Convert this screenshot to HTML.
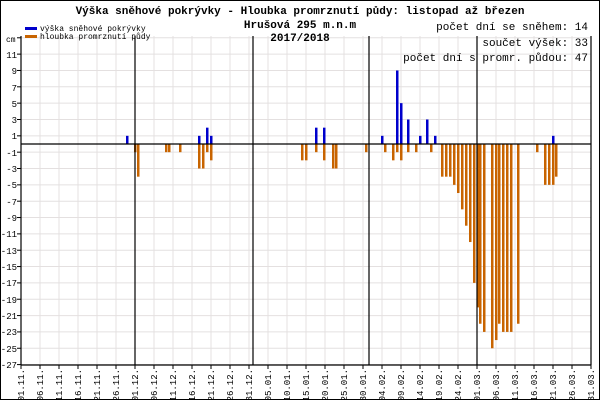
<!DOCTYPE html>
<html><head><meta charset="utf-8"><style>
body{margin:0;background:#fff}
svg{display:block;font-family:"Liberation Mono","DejaVu Sans Mono",monospace}
</style></head><body>
<svg id="s" width="600" height="400" xmlns="http://www.w3.org/2000/svg">
<rect x="0.5" y="0.5" width="599" height="399" fill="#fff" stroke="#000"/>
<g id="grid" stroke="#e4e0e0" stroke-width="1"></g>
<g id="bars"></g>
<g stroke="#000" stroke-width="1.2">
<line x1="21" y1="144" x2="591" y2="144"/>
<line x1="21" y1="36" x2="21" y2="365"/>
<line x1="21" y1="365" x2="591" y2="365"/>
<line x1="135" y1="36" x2="135" y2="365"/>
<line x1="253" y1="36" x2="253" y2="365"/>
<line x1="369" y1="36" x2="369" y2="365"/>
<line x1="477" y1="36" x2="477" y2="365"/>
<line x1="591" y1="36" x2="591" y2="365"/>
</g>
<g id="ticks" stroke="#000"></g>
<g font-size="11" font-weight="bold" text-anchor="middle">
<text x="300" y="14">Výška sněhové pokrývky - Hloubka promrznutí půdy: listopad až březen</text>
<text x="300" y="28">Hrušová 295 m.n.m</text>
<text x="300" y="41">2017/2018</text>
</g>
<g font-size="11" text-anchor="end">
<text x="588" y="30">počet dní se sněhem: 14</text>
<text x="588" y="46">součet výšek: 33</text>
<text x="588" y="61">počet dní s promr. půdou: 47</text>
</g>
<rect x="25" y="27" width="12" height="3" fill="#0000cc"/>
<rect x="25" y="35" width="12" height="3" fill="#c86400"/>
<g font-size="8"><text x="40" y="31">výška sněhové pokrývky</text><text x="40" y="39">hloubka promrznutí půdy</text><text x="6" y="42">cm</text></g>
<g font-size="9" text-anchor="end">
<text x="17" y="58">11</text><text x="17" y="74">9</text><text x="17" y="91">7</text><text x="17" y="107">5</text><text x="17" y="123">3</text><text x="17" y="139">1</text><text x="17" y="156">-1</text><text x="17" y="172">-3</text><text x="17" y="188">-5</text><text x="17" y="205">-7</text><text x="17" y="221">-9</text><text x="17" y="237">-11</text><text x="17" y="254">-13</text><text x="17" y="270">-15</text><text x="17" y="286">-17</text><text x="17" y="303">-19</text><text x="17" y="319">-21</text><text x="17" y="335">-23</text><text x="17" y="352">-25</text><text x="17" y="368">-27</text>
</g>
<g font-size="9" text-anchor="end">
<text transform="translate(24,369) rotate(-90)">01.11.</text>
<text transform="translate(43,369) rotate(-90)">06.11.</text>
<text transform="translate(62,369) rotate(-90)">11.11.</text>
<text transform="translate(81,369) rotate(-90)">16.11.</text>
<text transform="translate(100,369) rotate(-90)">21.11.</text>
<text transform="translate(119,369) rotate(-90)">26.11.</text>
<text transform="translate(138,369) rotate(-90)">01.12.</text>
<text transform="translate(157,369) rotate(-90)">06.12.</text>
<text transform="translate(176,369) rotate(-90)">11.12.</text>
<text transform="translate(195,369) rotate(-90)">16.12.</text>
<text transform="translate(214,369) rotate(-90)">21.12.</text>
<text transform="translate(233,369) rotate(-90)">26.12.</text>
<text transform="translate(252,369) rotate(-90)">31.12.</text>
<text transform="translate(271,369) rotate(-90)">05.01.</text>
<text transform="translate(290,369) rotate(-90)">10.01.</text>
<text transform="translate(309,369) rotate(-90)">15.01.</text>
<text transform="translate(328,369) rotate(-90)">20.01.</text>
<text transform="translate(347,369) rotate(-90)">25.01.</text>
<text transform="translate(366,369) rotate(-90)">30.01.</text>
<text transform="translate(385,369) rotate(-90)">04.02.</text>
<text transform="translate(404,369) rotate(-90)">09.02.</text>
<text transform="translate(423,369) rotate(-90)">14.02.</text>
<text transform="translate(442,369) rotate(-90)">19.02.</text>
<text transform="translate(461,369) rotate(-90)">24.02.</text>
<text transform="translate(480,369) rotate(-90)">01.03.</text>
<text transform="translate(499,369) rotate(-90)">06.03.</text>
<text transform="translate(518,369) rotate(-90)">11.03.</text>
<text transform="translate(537,369) rotate(-90)">16.03.</text>
<text transform="translate(556,369) rotate(-90)">21.03.</text>
<text transform="translate(575,369) rotate(-90)">26.03.</text>
<text transform="translate(594,369) rotate(-90)">31.03.</text>
</g>
</svg>
<script>
var NS="http://www.w3.org/2000/svg";
function el(p,t,a){var e=document.createElementNS(NS,t);for(var k in a)e.setAttribute(k,a[k]);document.getElementById(p).appendChild(e);}
var U=8.17,Z=144;
for(var k=0;k<=30;k++){var x=21+19*k;el("grid","line",{x1:x,y1:36,x2:x,y2:365});el("ticks","line",{x1:x,y1:365,x2:x,y2:369});}
for(var v=13;v>=-27;v-=2){var y=Z-v*U;if(y<36)continue;el("grid","line",{x1:21,y1:y,x2:591,y2:y});el("ticks","line",{x1:17,y1:y,x2:21,y2:y});}
var blue=[[127,1],[199,1],[207,2],[211,1],[316,2],[324,2],[382,1],[397,9],[401,5],[408,3],[420,1],[427,3],[435,1],[553,1]];
var or=[[135,-1],[138,-4],[166,-1],[169,-1],[180,-1],[199,-3],[203,-3],[207,-1],[211,-2],[302,-2],[306,-2],[316,-1],[324,-2],[333,-3],[336,-3],[366,-1],[385,-1],[393,-2],[397,-1],[401,-2],[408,-1],[416,-1],[431,-1],[442,-4],[446,-4],[450,-4],[454,-5],[458,-6],[462,-8],[466,-10],[470,-12],[474,-17],[478,-20],[480,-22],[484,-23],[492,-25],[496,-24],[499,-22],[503,-23],[507,-23],[511,-23],[518,-22],[537,-1],[545,-5],[549,-5],[553,-5],[556,-4]];
blue.forEach(function(b){el("bars","rect",{x:b[0]-1,y:Z-b[1]*U,width:2.5,height:b[1]*U,fill:"#0000cc"});});
or.forEach(function(b){el("bars","rect",{x:b[0]-1,y:Z,width:2.5,height:-b[1]*U,fill:"#c86400"});});
</script>
</body></html>
